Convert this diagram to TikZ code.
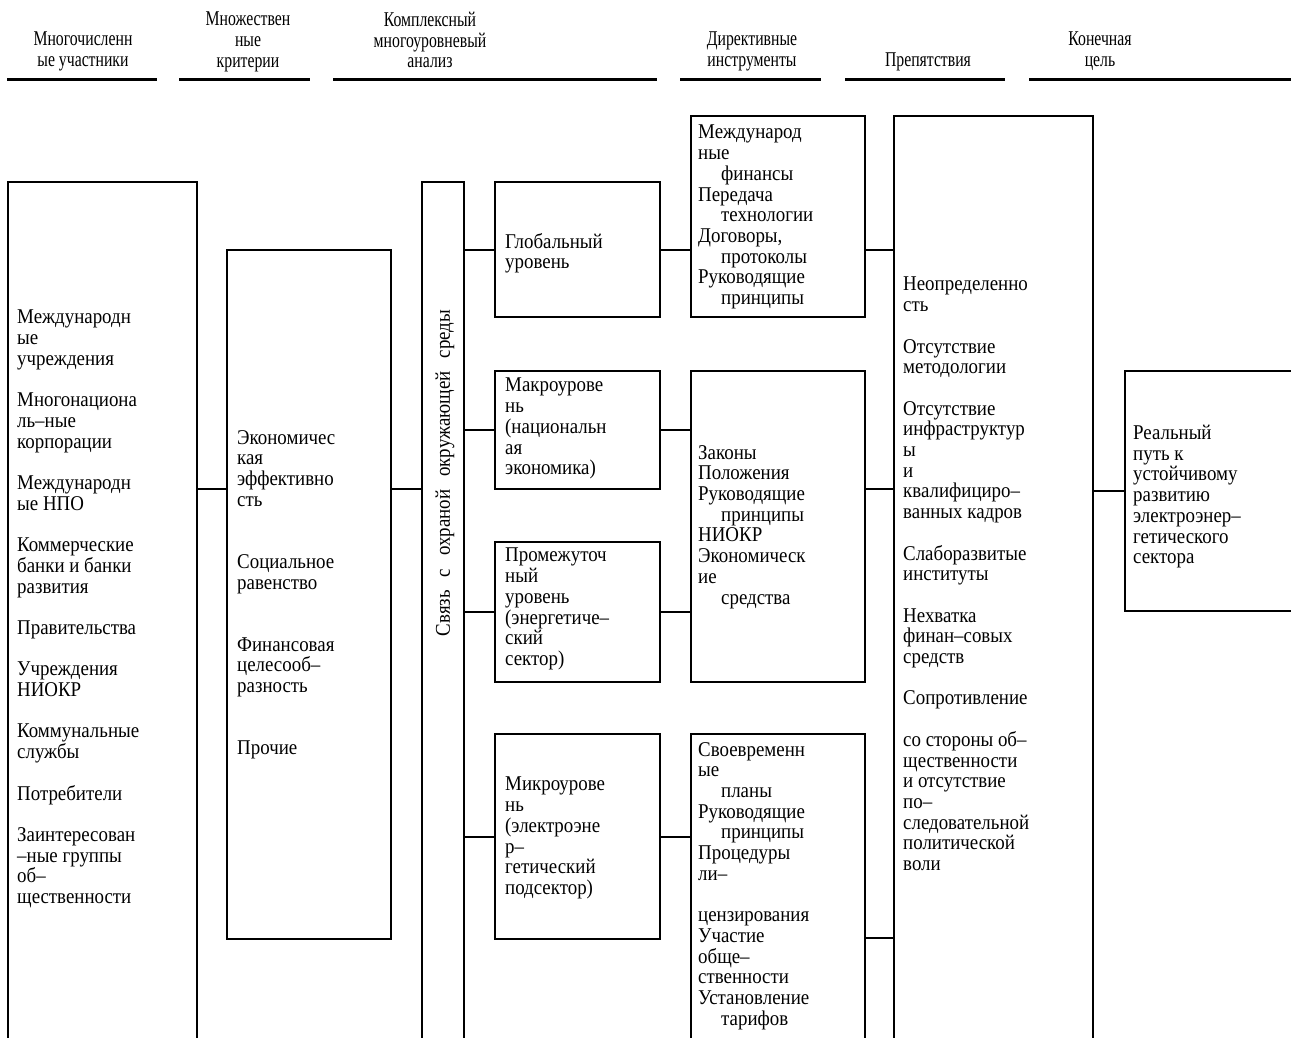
\documentclass[tikz,border=0pt]{standalone}
\usepackage{fontspec}
\setmainfont[FakeStretch=0.75]{Liberation Serif}
\newfontfamily\boxfont[FakeStretch=0.9]{Liberation Serif}
\usepackage{tikz}
\usetikzlibrary{positioning}
\newlength{\bsk}
\setlength{\bsk}{20.7pt}
\newcommand{\ind}{\hspace*{23pt}}
\newcommand{\wsp}{\hspace{13pt}}
\tikzstyle{box} = [draw, line width=2pt, inner sep=0pt]
\tikzstyle{txt} = [align=left, anchor=north west, inner sep=0pt, font=\boxfont\fontsize{21}{20.7}\selectfont, execute at begin node=\strut]
\tikzstyle{head} = [align=center, anchor=north, inner sep=0pt, font=\fontsize{21}{20.7}\selectfont, execute at begin node=\strut]
\tikzstyle{link} = [line width=2pt]
\tikzstyle{rule} = [line width=3pt]

\begin{document}
\begin{tikzpicture}[x=1pt, y=-1pt]
  \useasboundingbox (0,0) rectangle (1291,1038);
  \clip (0,0) rectangle (1291,1038);
  % column heads
  \node [head, name=h1] at (83,32) {Многочисленн\\ые участники};
  \node [head, name=h2] at (248,12) {Множествен\\ные\\критерии};
  \node [head, name=h3] at (430,12) {Комплексный\\многоуровневый\\анализ};
  \node [head, name=h4] at (752,32) {Директивные\\инструменты};
  \node [head, name=h5] at (928,52) {Препятствия};
  \node [head, name=h6] at (1100,32) {Конечная\\цель};
  \draw [rule] (7,80) -- (157,80);
  \draw [rule] (179,80) -- (310,80);
  \draw [rule] (333,80) -- (657,80);
  \draw [rule] (680,80) -- (821,80);
  \draw [rule] (845,80) -- (1005,80);
  \draw [rule] (1029,80) -- (1291,80);
  % boxes
  \node [box, name=part, minimum width=189pt, minimum height=878pt] at (102.5,621) {};
  \node [box, name=crit, minimum width=164pt, minimum height=689pt] at (309,594.5) {};
  \node [box, name=link, minimum width=42pt, minimum height=878pt] at (443,621) {};
  \node [box, name=glob, minimum width=165pt, minimum height=135pt] at (577.5,249.5) {};
  \node [box, name=macro, minimum width=165pt, minimum height=118pt] at (577.5,430) {};
  \node [box, name=mid, minimum width=165pt, minimum height=140pt] at (577.5,612) {};
  \node [box, name=micro, minimum width=165pt, minimum height=205pt] at (577.5,836.5) {};
  \node [box, name=dir1, minimum width=174pt, minimum height=201pt] at (778,216.5) {};
  \node [box, name=dir2, minimum width=174pt, minimum height=311pt] at (778,526.5) {};
  \node [box, name=dir3, minimum width=174pt, minimum height=326pt] at (778,897) {};
  \node [box, name=obst, minimum width=199pt, minimum height=944pt] at (993.5,588) {};
  \node [box, name=goal, minimum width=185pt, minimum height=240pt] at (1217.5,491) {};
  % texts
  \node [txt, name=partT] at (17,310) {Международн\\ые\\учреждения\\[\bsk]Многонациона\\ль–ные\\корпорации\\[\bsk]Международн\\ые НПО\\[\bsk]Коммерческие\\банки и банки\\развития\\[\bsk]Правительства\\[\bsk]Учреждения\\НИОКР\\[\bsk]Коммунальные\\службы\\[\bsk]Потребители\\[\bsk]Заинтересован\\–ные группы\\об–\\щественности};
  \node [txt, name=critT] at (237,430) {Экономичес\\кая\\эффективно\\сть\\[2\bsk]Социальное\\равенство\\[2\bsk]Финансовая\\целесооб–\\разность\\[2\bsk]Прочие};
  \node [font=\boxfont\fontsize{21}{20.7}\selectfont, inner sep=0pt, rotate=90, name=linkT] at (445,473) {Связь\wsp с\wsp охраной\wsp окружающей\wsp среды};
  \node [txt, name=globT] at (505,233) {Глобальный\\уровень};
  \node [txt, name=macroT] at (505,378) {Макроурове\\нь\\(национальн\\ая\\экономика)};
  \node [txt, name=midT] at (505,548) {Промежуточ\\ный\\уровень\\(энергетиче–\\ский\\сектор)};
  \node [txt, name=microT] at (505,777) {Микроурове\\нь\\(электроэне\\р–\\гетический\\подсектор)};
  \node [txt, name=dir1T] at (698,125) {Международ\\ные\\\ind финансы\\Передача\\\ind технологии\\Договоры,\\\ind протоколы\\Руководящие\\\ind принципы};
  \node [txt, name=dir2T] at (698,445) {Законы\\Положения\\Руководящие\\\ind принципы\\НИОКР\\Экономическ\\ие\\\ind средства};
  \node [txt, name=dir3T] at (698,742) {Своевременн\\ые\\\ind планы\\Руководящие\\\ind принципы\\Процедуры\\ли–\\[\bsk]цензирования\\Участие\\обще–\\ственности\\Установление\\\ind тарифов};
  \node [txt, name=obstT] at (903,277) {Неопределенно\\сть\\[\bsk]Отсутствие\\методологии\\[\bsk]Отсутствие\\инфраструктур\\ы\\и\\квалифициро–\\ванных кадров\\[\bsk]Слаборазвитые\\институты\\[\bsk]Нехватка\\финан–совых\\средств\\[\bsk]Сопротивление\\[\bsk]со стороны об–\\щественности\\и отсутствие\\по–\\следовательной\\политической\\воли};
  \node [txt, name=goalT] at (1133,425) {Реальный\\путь к\\устойчивому\\развитию\\электроэнер–\\гетического\\сектора};
  % connectors
  \coordinate (r1) at (0,489);
  \coordinate (r2) at (0,938);
  \draw [link] (part.east |- r1) -- (crit.west |- r1);
  \draw [link] (crit.east |- r1) -- (link.west |- r1);
  \draw [link] (link.east |- glob) -- (glob.west);
  \draw [link] (link.east |- macro) -- (macro.west);
  \draw [link] (link.east |- mid) -- (mid.west);
  \draw [link] (link.east |- micro) -- (micro.west);
  \draw [link] (glob.east) -- (dir1.west |- glob.east);
  \draw [link] (macro.east) -- (dir2.west |- macro.east);
  \draw [link] (mid.east) -- (dir2.west |- mid.east);
  \draw [link] (micro.east) -- (dir3.west |- micro.east);
  \draw [link] (dir1.east |- glob) -- (obst.west |- glob);
  \draw [link] (dir2.east |- r1) -- (obst.west |- r1);
  \draw [link] (dir3.east |- r2) -- (obst.west |- r2);
  \draw [link] (obst.east |- goal) -- (goal.west);
\end{tikzpicture}
\end{document}
